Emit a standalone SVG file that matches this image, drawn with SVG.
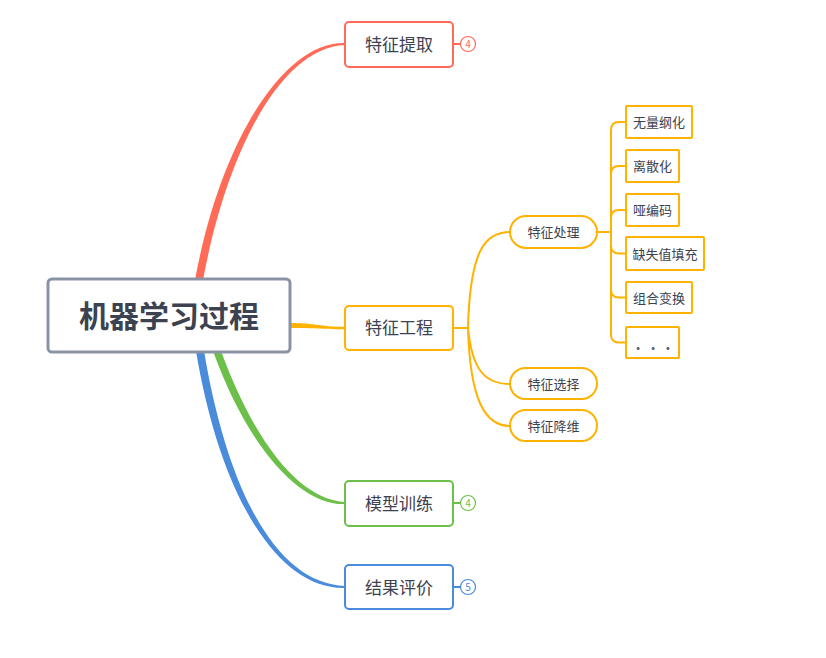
<svg xmlns="http://www.w3.org/2000/svg" width="826" height="658" viewBox="0 0 826 658">
<style>
text{font-family:"Noto Sans CJK SC","Noto Sans",sans-serif;fill:#3c4250;text-anchor:middle}
.root{font-size:30px;font-weight:bold}
.main{font-size:17px}
.sub{font-size:13px}
.badge{font-size:10px}
.box{fill:#fff;stroke-width:2}
.thin{fill:none;stroke:#ffb300;stroke-width:2}
.red{stroke:#ff6b57}.ora{stroke:#ffb300}.grn{stroke:#6cc04a}.blu{stroke:#4a8bdc}
</style>
<rect width="826" height="658" fill="#fff"/>
<g id="connectors">
<path d="M195,280 C221,139 285,41 345,43 L345,45 C285,47 229,141 203,280 Z" fill="#ff6b57"/>
<path d="M290,323 C315,323 320,326.8 345,326.8 L345,329.2 C320,329.2 315,328 290,328 Z" fill="#ffb300"/>
<path d="M213,351 C251,456 305,506 345,504 L345,502 C305,500 259,454 221,351 Z" fill="#6cc04a"/>
<path d="M196,351 C221,501 280,590 345,588 L345,586 C280,584 229,499 204,351 Z" fill="#4a8bdc"/>
<path class="thin" d="M453,328 H468 M468,328 C470,250 485,232 510,232 M468,328 C472,370 485,384 510,384 M468,328 C470,400 485,426 510,426"/>
<path class="thin" d="M597,232 H611 M611,232 V130 Q611,122 619,122 H626 M611,232 V174 Q611,166 619,166 H626 M611,232 V218 Q611,210 619,210 H626 M611,232 V245.5 Q611,253.5 619,253.5 H626 M611,232 V289.5 Q611,297.5 619,297.5 H626 M611,232 V334.5 Q611,342.5 619,342.5 H626"/>
<path d="M453,44 H460" stroke="#ff6b57" stroke-width="2"/>
<path d="M453,503 H460" stroke="#6cc04a" stroke-width="2"/>
<path d="M453,587 H460" stroke="#4a8bdc" stroke-width="2"/>
</g>
<g id="root">
<rect x="48" y="279" width="242" height="73" rx="4" fill="#fff" stroke="#8a93a5" stroke-width="3"/>
<text class="root" x="169" y="327">机器学习过程</text>
</g>
<g id="n-tiqu">
<rect class="box red" x="345" y="22" width="108" height="45" rx="4"/>
<text class="main" x="399" y="51">特征提取</text>
<circle cx="468" cy="44" r="7.5" fill="#fff" stroke="#ff6b57" stroke-width="1.2"/>
<text class="badge" x="468" y="47.5" style="fill:#ff6b57">4</text>
</g>
<g id="n-gongcheng">
<rect class="box ora" x="345" y="306" width="108" height="44" rx="4"/>
<text class="main" x="399" y="334">特征工程</text>
</g>
<g id="n-xunlian">
<rect class="box grn" x="345" y="481" width="108" height="45" rx="4"/>
<text class="main" x="399" y="509.5">模型训练</text>
<circle cx="468" cy="503" r="7.5" fill="#fff" stroke="#6cc04a" stroke-width="1.2"/>
<text class="badge" x="468" y="506.5" style="fill:#6cc04a">4</text>
</g>
<g id="n-pingjia">
<rect class="box blu" x="345" y="565" width="108" height="44" rx="4"/>
<text class="main" x="399" y="593.5">结果评价</text>
<circle cx="468" cy="587" r="7.5" fill="#fff" stroke="#4a8bdc" stroke-width="1.2"/>
<text class="badge" x="468" y="590.5" style="fill:#4a8bdc">5</text>
</g>
<g id="n-chuli">
<rect class="box ora" x="510" y="216" width="87" height="32" rx="16"/>
<text class="sub" x="553.5" y="237">特征处理</text>
</g>
<g id="n-xuanze">
<rect class="box ora" x="510" y="368" width="87" height="31" rx="15.5"/>
<text class="sub" x="553.5" y="388.5">特征选择</text>
</g>
<g id="n-jiangwei">
<rect class="box ora" x="510" y="410" width="87" height="31" rx="15.5"/>
<text class="sub" x="553.5" y="430.5">特征降维</text>
</g>
<g id="l1"><rect class="box ora" x="626" y="106" width="66" height="32" rx="1"/><text class="sub" x="659" y="127">无量纲化</text></g>
<g id="l2"><rect class="box ora" x="626" y="150" width="53" height="32" rx="1"/><text class="sub" x="652.5" y="171">离散化</text></g>
<g id="l3"><rect class="box ora" x="626" y="194" width="53" height="32" rx="1"/><text class="sub" x="652.5" y="215">哑编码</text></g>
<g id="l4"><rect class="box ora" x="626" y="237" width="78" height="33" rx="1"/><text class="sub" x="665" y="258.5">缺失值填充</text></g>
<g id="l5"><rect class="box ora" x="626" y="282" width="66" height="31" rx="1"/><text class="sub" x="659" y="302.5">组合变换</text></g>
<g id="l6"><rect class="box ora" x="626" y="327" width="53" height="31" rx="1"/><text class="sub" x="654.5" y="349.5" style="font-size:16px;font-weight:bold;letter-spacing:3px;fill:#5a606c">. . .</text></g>
</svg>
